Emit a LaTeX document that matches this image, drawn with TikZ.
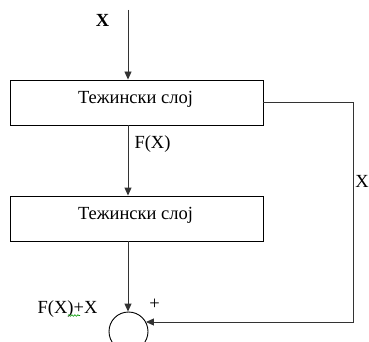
\documentclass[tikz,border=0pt]{standalone}
\usepackage{fontspec}
\setmainfont{Liberation Serif}
\usetikzlibrary{arrows.meta,decorations.pathmorphing}
\begin{document}
\begin{tikzpicture}[x=1pt,y=-1pt,
  txt/.style={font=\fontsize{18.5}{22}\selectfont, inner sep=0pt},
  box/.style={draw=black, line width=0.9pt, minimum width=253pt, minimum height=45pt, inner sep=0pt},
  conn/.style={draw=black!80, line width=0.9pt},
  arr/.style={conn, -{Triangle[length=8pt,width=7pt]}},
  sumnode/.style={draw=black, line width=0.9pt, circle, minimum size=39pt, inner sep=0pt}]
\useasboundingbox (0,0) rectangle (369,342);
\node[box] (b1) at (136.5,102.5) {};
\node[txt, anchor=base] (t1) at (135.5,103) {Тежински слој};
\node[box] (b2) at (136.5,218.5) {};
\node[txt, anchor=base] (t2) at (135.5,219) {Тежински слој};
\node[sumnode] (c) at (128.5,331.5) {};
\coordinate (xin) at (128,10);
\node[txt, anchor=base] (xlab) at (102.5,27) {\textbf{X}};
\node[txt, anchor=base] (fx) at (152.5,148) {F(X)};
\node[txt, anchor=base] (xr) at (362,187) {X};
\node[txt, anchor=base] (fxx) at (67.5,313) {F(X)+X};
\node[txt, anchor=base] (plus) at (154.5,309) {+};
\draw[arr] (xin) -- (xin |- b1.north);
\draw[arr] (b1.south -| xin) -- (b2.north -| xin);
\draw[arr] (b2.south -| xin) -- (c.north -| xin);
\coordinate (r2) at (353,322);
\draw[arr] (b1.east) -| (r2) -- (r2 -| c.29);
\draw[green!60!black, line width=0.6pt, decorate, decoration={snake, amplitude=0.8pt, segment length=3pt}] (68,315.5) -- (80,315.5);
\end{tikzpicture}
\end{document}
